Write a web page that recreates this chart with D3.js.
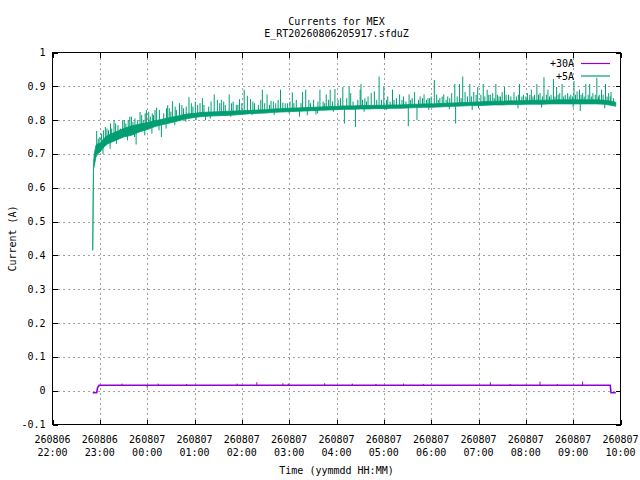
<!DOCTYPE html>
<html>
<head>
<meta charset="utf-8">
<script src="https://cdn.jsdelivr.net/npm/d3@7"></script>
<style>
    body { margin: 0; background: #fff; }
    text { font-family: "DejaVu Sans Mono", monospace; font-size: 10px; fill: #000; }
</style>
</head>
<body>
<div id="chart"></div>
<script>
// minutes after 2026-08-06 22:00
const greenTimes = [51, 52, 53, 55, 57, 60, 65, 70, 80, 90, 100, 110, 120, 130, 140, 150, 160, 170, 180, 190,
    200, 210, 220, 230, 240, 250, 260, 270, 280, 290, 300, 310, 320, 330, 340, 350, 360, 370, 380, 390,
    400, 410, 420, 430, 440, 450, 460, 470, 480, 490, 500, 510, 520, 530, 540, 550, 560, 570, 580, 590,
    600, 610, 620, 630, 640, 650, 660, 670, 680, 690, 700, 710, 714];
const greenLow = [0.415, 0.655, 0.665, 0.69, 0.70, 0.705, 0.72, 0.73, 0.74, 0.75, 0.755, 0.765, 0.772, 0.781, 0.787, 0.792, 0.798, 0.804, 0.808, 0.811,
    0.812, 0.813, 0.814, 0.815, 0.817, 0.819, 0.82, 0.821, 0.823, 0.824, 0.825, 0.826, 0.827, 0.828, 0.829, 0.83, 0.831, 0.832, 0.832, 0.833,
    0.833, 0.834, 0.834, 0.835, 0.835, 0.836, 0.837, 0.838, 0.838, 0.839, 0.84, 0.841, 0.842, 0.843, 0.843, 0.844, 0.845, 0.845, 0.846, 0.846,
    0.847, 0.847, 0.847, 0.848, 0.848, 0.848, 0.848, 0.848, 0.848, 0.848, 0.847, 0.843, 0.841];
const greenHigh = [0.425, 0.675, 0.70, 0.725, 0.73, 0.73, 0.745, 0.755, 0.765, 0.775, 0.783, 0.788, 0.793, 0.798, 0.803, 0.808, 0.813, 0.818, 0.82, 0.823,
    0.824, 0.825, 0.826, 0.827, 0.828, 0.829, 0.83, 0.831, 0.833, 0.834, 0.835, 0.836, 0.837, 0.838, 0.839, 0.84, 0.841, 0.842, 0.842, 0.843,
    0.843, 0.844, 0.844, 0.845, 0.845, 0.846, 0.847, 0.848, 0.848, 0.849, 0.85, 0.851, 0.852, 0.853, 0.854, 0.855, 0.856, 0.856, 0.857, 0.857,
    0.858, 0.859, 0.859, 0.859, 0.86, 0.86, 0.86, 0.86, 0.86, 0.86, 0.859, 0.855, 0.853];

// single samples sticking out of the +5A band: [minute, value]
const greenSpikes = [[56, 0.768], [58, 0.745], [62, 0.76], [67, 0.78], [71, 0.77], [75, 0.775], [78, 0.80], [83, 0.785],
    [86, 0.775], [89, 0.80], [93, 0.79], [98, 0.81], [102, 0.795], [106, 0.728], [108, 0.80], [111, 0.824], [115, 0.80],
    [119, 0.83], [124, 0.81], [128, 0.815], [132, 0.837], [138, 0.75], [141, 0.82], [146, 0.844], [150, 0.825], [152, 0.856],
    [157, 0.83], [161, 0.85], [166, 0.835], [173, 0.868], [178, 0.84], [184, 0.845], [190, 0.865], [194, 0.80], [198, 0.84],
    [205, 0.876], [209, 0.86], [214, 0.86], [219, 0.845], [224, 0.876], [229, 0.855], [233, 0.845], [237, 0.862], [243, 0.89],
    [247, 0.872], [251, 0.862], [256, 0.85], [261, 0.845], [266, 0.89], [272, 0.876], [277, 0.857], [283, 0.85], [289, 0.89],
    [292, 0.852], [298, 0.85], [304, 0.882], [309, 0.86], [313, 0.81], [317, 0.883], [321, 0.89], [323, 0.814], [327, 0.85],
    [331, 0.86], [334, 0.817], [339, 0.89], [343, 0.855], [347, 0.876], [352, 0.89], [358, 0.892], [362, 0.86], [368, 0.898],
    [370, 0.79], [373, 0.865], [376, 0.898], [378, 0.88], [384, 0.78], [387, 0.86], [390, 0.89], [391, 0.907], [396, 0.865],
    [400, 0.87], [404, 0.88], [408, 0.885], [414, 0.929], [417, 0.86], [420, 0.898], [425, 0.87], [431, 0.89], [436, 0.865],
    [440, 0.876], [445, 0.87], [451, 0.782], [452, 0.876], [456, 0.865], [459, 0.883], [462, 0.80], [466, 0.87], [471, 0.876],
    [476, 0.865], [480, 0.87], [484, 0.919], [487, 0.876], [491, 0.865], [496, 0.876], [501, 0.87], [506, 0.88], [510, 0.907],
    [511, 0.79], [516, 0.907], [520, 0.929], [523, 0.883], [526, 0.87], [529, 0.907], [532, 0.83], [534, 0.883], [539, 0.898],
    [543, 0.875], [546, 0.907], [551, 0.89], [555, 0.875], [558, 0.88], [562, 0.907], [566, 0.87], [570, 0.883], [573, 0.898],
    [578, 0.875], [585, 0.883], [588, 0.87], [592, 0.907], [597, 0.875], [602, 0.88], [607, 0.89], [611, 0.875], [614, 0.907],
    [618, 0.88], [623, 0.927], [628, 0.89], [632, 0.875], [635, 0.922], [639, 0.898], [643, 0.88], [646, 0.907], [650, 0.875],
    [653, 0.88], [657, 0.875], [661, 0.916], [665, 0.885], [668, 0.89], [669, 0.827], [672, 0.88], [676, 0.907], [681, 0.907],
    [685, 0.88], [690, 0.925], [693, 0.875], [696, 0.89], [701, 0.907], [705, 0.88], [708, 0.883]];

// shorter excursions that make the band ragged: [minute, value]
const greenSmallSpikes = [[60, 0.75], [64, 0.70], [64.5, 0.77], [69, 0.775], [73, 0.715], [73.5, 0.79], [80, 0.79],
    [81, 0.73], [91, 0.80], [95, 0.74], [96, 0.80], [100, 0.81], [104, 0.75], [104.5, 0.805], [113, 0.815], [117, 0.755],
    [117.5, 0.82], [122, 0.825], [126, 0.76], [126.5, 0.82], [130, 0.83], [135, 0.77], [135.5, 0.83], [144, 0.775],
    [144.5, 0.835], [148, 0.835], [155, 0.785], [155.5, 0.84], [164, 0.845], [169, 0.795], [169.5, 0.84], [176, 0.85],
    [181, 0.855], [182, 0.80], [187, 0.85], [192, 0.845], [200, 0.805], [201, 0.855], [212, 0.85], [217, 0.855],
    [226, 0.81], [227, 0.85], [235, 0.845], [240, 0.85], [253, 0.815], [254, 0.855], [264, 0.86], [269, 0.85], [275, 0.845],
    [280, 0.855], [281, 0.815], [286, 0.86], [295, 0.85], [300, 0.82], [301, 0.855], [306, 0.85], [315, 0.85], [325, 0.86],
    [336, 0.82], [336.5, 0.855], [345, 0.85], [350, 0.86], [355, 0.855], [356, 0.825], [365, 0.865], [381, 0.855],
    [393, 0.86], [395, 0.825], [398, 0.855], [411, 0.86], [423, 0.83], [423.5, 0.86], [428, 0.855], [433, 0.86], [443, 0.86],
    [448, 0.855], [454, 0.86], [464, 0.86], [469, 0.865], [474, 0.86], [477, 0.83], [478, 0.865], [489, 0.86], [494, 0.87],
    [499, 0.86], [503, 0.832], [503.5, 0.865], [513, 0.87], [518, 0.865], [531, 0.87], [537, 0.875], [540, 0.835],
    [548, 0.87], [553, 0.875], [560, 0.865], [564, 0.875], [568, 0.87], [575, 0.875], [581, 0.87], [590, 0.835],
    [590.5, 0.875], [595, 0.87], [600, 0.87], [605, 0.875], [609, 0.87], [616, 0.875], [620, 0.837], [621, 0.87],
    [626, 0.875], [630, 0.87], [637, 0.87], [641, 0.875], [648, 0.87], [655, 0.87], [659, 0.87], [660, 0.837], [663, 0.875],
    [670, 0.875], [674, 0.87], [679, 0.875], [683, 0.87], [688, 0.875], [692, 0.87], [698, 0.875], [700, 0.835], [703, 0.87],
    [707, 0.87], [711, 0.865]];

const purpleTimes = [51, 56, 57, 59, 100, 200, 300, 400, 500, 600, 707, 708, 714];
const purpleValues = [-0.006, -0.006, 0.008, 0.016, 0.016, 0.016, 0.016, 0.016, 0.016, 0.016, 0.016, -0.006, -0.006];
const purpleSpikes = [[88, 0.021], [120, 0.009], [134, 0.021], [170, 0.02], [234, 0.021], [259, 0.025], [292, 0.022],
    [299, 0.021], [345, 0.022], [380, 0.021], [410, 0.02], [445, 0.021], [470, 0.02], [555, 0.025], [580, 0.02],
    [618, 0.027], [640, 0.02], [672, 0.027]];

const xTickDays = ["260806", "260806", "260807", "260807", "260807", "260807", "260807", "260807", "260807", "260807", "260807", "260807", "260807"];
const xTickHours = ["22:00", "23:00", "00:00", "01:00", "02:00", "03:00", "04:00", "05:00", "06:00", "07:00", "08:00", "09:00", "10:00"];
const yTicks = [-0.1, 0, 0.1, 0.2, 0.3, 0.4, 0.5, 0.6, 0.7, 0.8, 0.9, 1];
const yTickLabels = ["-0.1", "0", "0.1", "0.2", "0.3", "0.4", "0.5", "0.6", "0.7", "0.8", "0.9", "1"];

const seriesNames = ["+30A", "+5A"];
const colors = ["#9400d3", "#009e73"];

const margin = {top: 52.5, right: 19.5, bottom: 55.5, left: 52.5},
    width = 640 - margin.left - margin.right,
    height = 480 - margin.top - margin.bottom;

const svg = d3.select("#chart")
    .append("svg")
    .attr("width", 640)
    .attr("height", 480);

const g = svg.append("g")
    .attr("transform", "translate(" + margin.left + "," + margin.top + ")");

const t0 = new Date(2026, 7, 6, 22, 0);
const at = m => new Date(t0.getTime() + m * 60000);

const x = d3.scaleTime()
    .domain([t0, d3.timeHour.offset(t0, 12)])
    .range([0, width]);

const y = d3.scaleLinear()
    .domain([-0.1, 1])
    .range([height, 0]);

const xTickDates = xTickHours.map((d, i) => d3.timeHour.offset(t0, i));

// dashed grid
g.append("g")
    .attr("class", "grid")
    .call(d3.axisLeft(y).tickValues(yTicks.slice(1, -1)).tickSize(-width).tickFormat(""))
    .call(s => s.select(".domain").remove());
g.append("g")
    .attr("class", "grid")
    .attr("transform", `translate(0, ${height})`)
    .call(d3.axisBottom(x).tickValues(xTickDates.slice(1, -1)).tickSize(-height).tickFormat(""))
    .call(s => s.select(".domain").remove());
g.selectAll(".grid line")
    .attr("stroke", "#a0a0a0")
    .attr("stroke-dasharray", "2,3")
    .attr("shape-rendering", "crispEdges");

// inward ticks on all four sides
const tickLen = 5;
g.append("g").attr("transform", `translate(0, ${height})`)
    .call(d3.axisBottom(x).tickValues(xTickDates).tickSize(-tickLen).tickFormat(""));
g.append("g")
    .call(d3.axisTop(x).tickValues(xTickDates).tickSize(-tickLen).tickFormat(""));
g.append("g")
    .call(d3.axisLeft(y).tickValues(yTicks).tickSize(-tickLen).tickFormat(""));
g.append("g").attr("transform", `translate(${width}, 0)`)
    .call(d3.axisRight(y).tickValues(yTicks).tickSize(-tickLen).tickFormat(""));
g.selectAll(".tick line").filter(function() { return !this.closest(".grid"); })
    .attr("stroke", "#000")
    .attr("shape-rendering", "crispEdges");
g.selectAll(".domain").remove();

// y tick labels
g.selectAll(".ylab")
    .data(yTicks)
    .join("text")
    .attr("x", -7)
    .attr("y", d => y(d) + 3.5)
    .attr("text-anchor", "end")
    .text((d, i) => yTickLabels[i]);

// x tick labels, two lines
const xl = g.selectAll(".xlab")
    .data(xTickDates)
    .join("text")
    .attr("text-anchor", "middle")
    .attr("transform", d => `translate(${x(d)}, ${height + 18.5})`);
xl.append("tspan").attr("x", 0).attr("y", 0).text((d, i) => xTickDays[i]);
xl.append("tspan").attr("x", 0).attr("y", 13).text((d, i) => xTickHours[i]);

// +30A
const purpleLine = d3.line()
    .x((d, i) => x(at(purpleTimes[i])))
    .y(d => y(d));
g.append("path")
    .datum(purpleValues)
    .attr("fill", "none")
    .attr("stroke", colors[0])
    .attr("stroke-width", 1.6)
    .attr("d", purpleLine);

const nearest = (times, m) => {
    let i = d3.bisectLeft(times, m);
    if (i >= times.length) i = times.length - 1;
    if (i > 0 && m - times[i - 1] < times[i] - m) i = i - 1;
    return i;
};

g.selectAll(".pspike")
    .data(purpleSpikes)
    .join("line")
    .attr("x1", d => x(at(d[0])))
    .attr("x2", d => x(at(d[0])))
    .attr("y1", d => y(purpleValues[nearest(purpleTimes, d[0])]))
    .attr("y2", d => y(d[1]))
    .attr("stroke", colors[0])
    .attr("stroke-width", 1);

// +5A band
const band = d3.area()
    .x((d, i) => x(at(greenTimes[i])))
    .y0((d, i) => y(greenLow[i]))
    .y1((d, i) => y(greenHigh[i]));
g.append("path")
    .datum(greenTimes)
    .attr("fill", colors[1])
    .attr("stroke", colors[1])
    .attr("stroke-width", 0.8)
    .attr("d", band);

g.selectAll(".gspike")
    .data(greenSpikes.concat(greenSmallSpikes))
    .join("line")
    .attr("x1", d => x(at(d[0])))
    .attr("x2", d => x(at(d[0])))
    .attr("y1", d => {
        const i = nearest(greenTimes, d[0]);
        return y((greenLow[i] + greenHigh[i]) / 2);
    })
    .attr("y2", d => y(d[1]))
    .attr("stroke", colors[1])
    .attr("stroke-width", 1);

// frame
g.append("rect")
    .attr("width", width)
    .attr("height", height)
    .attr("fill", "none")
    .attr("stroke", "#000")
    .attr("shape-rendering", "crispEdges");

// legend
seriesNames.forEach((name, i) => {
    const ly = 63.5 + i * 12.5 - margin.top;
    g.append("text")
        .attr("x", 574 - margin.left)
        .attr("y", ly + 3.5)
        .attr("text-anchor", "end")
        .text(name);
    g.append("line")
        .attr("x1", 581 - margin.left)
        .attr("x2", 610 - margin.left)
        .attr("y1", ly)
        .attr("y2", ly)
        .attr("stroke", colors[i])
        .attr("stroke-width", 1.2);
});

// titles
svg.append("text")
    .attr("x", margin.left + width / 2)
    .attr("y", 25)
    .attr("text-anchor", "middle")
    .text("Currents for MEX");
svg.append("text")
    .attr("x", margin.left + width / 2)
    .attr("y", 37)
    .attr("text-anchor", "middle")
    .text("E_RT20260806205917.sfduZ");

svg.append("text")
    .attr("x", margin.left + width / 2)
    .attr("y", 474)
    .attr("text-anchor", "middle")
    .text("Time (yymmdd HH:MM)");

svg.append("text")
    .attr("transform", `translate(16, ${margin.top + height / 2}) rotate(-90)`)
    .attr("text-anchor", "middle")
    .text("Current (A)");
</script>
</body>
</html>
